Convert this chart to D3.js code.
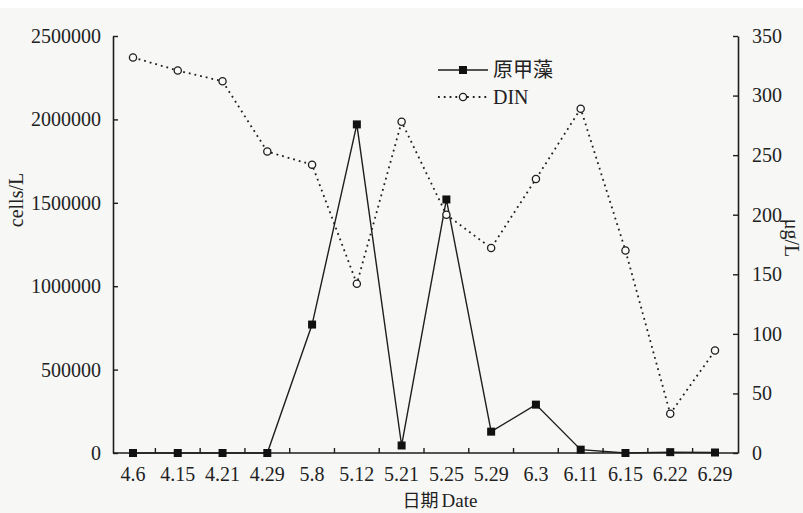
<!DOCTYPE html>
<html lang="zh">
<head>
    <meta charset="UTF-8" />
    <title>原甲藻 与 DIN</title>
    <script src="https://d3js.org/d3.v7.min.js"></script>
    <style>
        body { margin: 0; background: #ffffff; }
        svg { display: block; }
        text { font-family: "Liberation Serif", "DejaVu Serif", serif; fill: #222; }
        .cjk { font-family: "Noto Sans CJK SC", sans-serif; }
    </style>
</head>
<body>
    <script>
        var w = 803;
        var h = 513;

        // data
        var dates = ["4.6", "4.15", "4.21", "4.29", "5.8", "5.12", "5.21", "5.25", "5.29", "6.3", "6.11", "6.15", "6.22", "6.29"];
        var algae = [0, 0, 0, 0, 770000, 1970000, 45000, 1520000, 128000, 290000, 20000, 0, 5000, 3000];
        var din = [332, 321, 312, 253, 242, 142, 278, 200, 172, 230, 289, 170, 33, 86];
        var leftTicks = [0, 500000, 1000000, 1500000, 2000000, 2500000];
        var rightTicks = [0, 50, 100, 150, 200, 250, 300, 350];

        // plot box (window.top is read-only, so no bare "top")
        var padL = 113, padR = 738, padT = 36, padB = 453;
        var fs = 20;

        var svg = d3.select("body")
            .append("svg")
            .attr("width", w)
            .attr("height", h);

        // scanned page tone
        svg.append("rect")
            .attr("x", 0).attr("y", 8)
            .attr("width", w).attr("height", h - 8)
            .attr("fill", "#f7f7f6");

        var xScale = d3.scalePoint()
            .domain(dates)
            .range([133, 715]);

        var yLeft = d3.scaleLinear()
            .domain([0, 2500000])
            .range([padB, padT]);

        var yRight = d3.scaleLinear()
            .domain([0, 350])
            .range([padB, padT]);

        var ink = "#1e1e1e";

        // left axis
        var leftAxis = d3.axisLeft(yLeft)
            .tickValues(leftTicks)
            .tickSizeInner(-5)
            .tickSizeOuter(0)
            .tickPadding(12)
            .tickFormat(d3.format("d"));
        var gl = svg.append("g")
            .attr("transform", "translate(" + padL + ",0)")
            .call(leftAxis);

        // right axis
        var rightAxis = d3.axisRight(yRight)
            .tickValues(rightTicks)
            .tickSizeInner(-5)
            .tickSizeOuter(0)
            .tickPadding(14);
        var gr = svg.append("g")
            .attr("transform", "translate(" + padR + ",0)")
            .call(rightAxis);

        // bottom axis: labels at points, ticks between them
        var gb = svg.append("g")
            .attr("transform", "translate(0," + padB + ")");
        gb.append("line")
            .attr("x1", padL).attr("x2", padR)
            .attr("stroke", ink).attr("stroke-width", 1.6);
        var step = xScale.step();
        var mids = dates.slice(1).map(function(d) { return xScale(d) - step / 2; });
        gb.selectAll(".xt")
            .data(mids)
            .enter()
            .append("line")
            .attr("x1", function(d) { return d; })
            .attr("x2", function(d) { return d; })
            .attr("y1", 0).attr("y2", -5)
            .attr("stroke", ink).attr("stroke-width", 1.4);
        gb.selectAll(".xl")
            .data(dates)
            .enter()
            .append("text")
            .attr("x", function(d) { return xScale(d); })
            .attr("y", 28)
            .attr("text-anchor", "middle")
            .attr("font-size", fs)
            .text(function(d) { return d; });

        [gl, gr].forEach(function(g) {
            g.select(".domain").attr("stroke", ink).attr("stroke-width", 1.6);
            g.selectAll(".tick line").attr("stroke", ink).attr("stroke-width", 1.4);
            g.selectAll(".tick text")
                .attr("font-size", fs)
                .attr("font-family", "Liberation Serif")
                .attr("fill", "#222");
        });

        // DIN dotted line
        var dinLine = d3.line()
            .x(function(d, i) { return xScale(dates[i]); })
            .y(function(d) { return yRight(d); });
        svg.append("path")
            .datum(din)
            .attr("d", dinLine)
            .attr("fill", "none")
            .attr("stroke", ink)
            .attr("stroke-width", 1.8)
            .attr("stroke-dasharray", "1.8,4");

        // algae solid line
        var algaeLine = d3.line()
            .x(function(d, i) { return xScale(dates[i]); })
            .y(function(d) { return yLeft(d); });
        svg.append("path")
            .datum(algae)
            .attr("d", algaeLine)
            .attr("fill", "none")
            .attr("stroke", ink)
            .attr("stroke-width", 1.4);

        svg.selectAll(".din")
            .data(din)
            .enter()
            .append("circle")
            .attr("cx", function(d, i) { return xScale(dates[i]); })
            .attr("cy", function(d) { return yRight(d); })
            .attr("r", 3.6)
            .attr("fill", "#fafafa")
            .attr("stroke", ink)
            .attr("stroke-width", 1.3);

        svg.selectAll(".alg")
            .data(algae)
            .enter()
            .append("rect")
            .attr("x", function(d, i) { return xScale(dates[i]) - 4; })
            .attr("y", function(d) { return yLeft(d) - 4; })
            .attr("width", 8)
            .attr("height", 8)
            .attr("fill", "#111");

        // legend
        var lg = svg.append("g").attr("transform", "translate(438,70)");
        lg.append("line").attr("x1", 0).attr("x2", 50).attr("y1", 0).attr("y2", 0)
            .attr("stroke", ink).attr("stroke-width", 1.4);
        lg.append("rect").attr("x", 21).attr("y", -4).attr("width", 8).attr("height", 8).attr("fill", "#111");
        lg.append("text").attr("class", "cjk").attr("x", 55).attr("y", 7)
            .attr("font-size", fs).text("原甲藻");
        lg.append("line").attr("x1", 0).attr("x2", 50).attr("y1", 27).attr("y2", 27)
            .attr("stroke", ink).attr("stroke-width", 1.8).attr("stroke-dasharray", "1.8,4");
        lg.append("circle").attr("cx", 25).attr("cy", 27).attr("r", 3.6)
            .attr("fill", "#fafafa").attr("stroke", ink).attr("stroke-width", 1.3);
        lg.append("text").attr("x", 55).attr("y", 34)
            .attr("font-size", fs).text("DIN");

        // axis titles
        svg.append("text")
            .attr("transform", "translate(23,200) rotate(-90)")
            .attr("text-anchor", "middle")
            .attr("font-size", fs)
            .text("cells/L");
        svg.append("text")
            .attr("transform", "translate(785,238) rotate(90)")
            .attr("text-anchor", "middle")
            .attr("font-size", fs)
            .text("μg/L");
        var xt = svg.append("text")
            .attr("x", 440)
            .attr("y", 507)
            .attr("text-anchor", "middle")
            .attr("font-size", 18);
        xt.append("tspan").attr("class", "cjk").text("日期");
        xt.append("tspan").attr("dx", 3).attr("font-size", 19).text("Date");
    </script>
</body>
</html>
